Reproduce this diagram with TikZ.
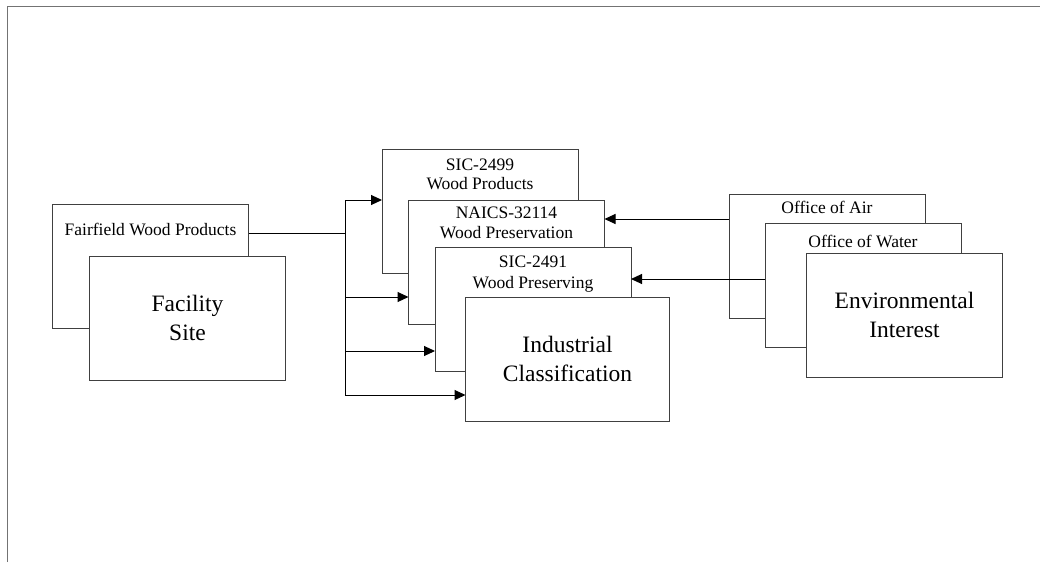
\documentclass[tikz,border=0pt]{standalone}
\usepackage{fontspec}
\setmainfont{Liberation Serif}
\usetikzlibrary{arrows.meta}
\begin{document}
\begin{tikzpicture}[x=1pt,y=-1pt,
  box/.style={draw=black!75,line width=1pt,fill=white,minimum width=196pt,minimum height=124pt,inner sep=0pt,outer sep=0pt},
  small/.style={font=\fontsize{17.5}{19.5}\selectfont,anchor=base,inner sep=0pt},
  big/.style={font=\fontsize{23.5}{29}\selectfont,align=center},
  arr/.style={line width=1pt,-{Triangle[length=11pt,width=10pt]}},
  wire/.style={line width=1pt}]
\useasboundingbox (0,0) rectangle (1040,562);
\draw[black!55,line width=1pt] (7,562) -- (7,6) -- (1040,6);
\node[box] (fairfield) at (150.5,266) {};
\node[small] (fairfieldtxt) at (150.5,235) {Fairfield Wood Products};
\node[box,big] (facility) at (187.5,318) {Facility\\Site};
\node[box] (sic2499) at (480,211.5) {};
\node[small] (sic2499a) at (480,170) {SIC-2499};
\node[small] (sic2499b) at (480,189) {Wood Products};
\node[box] (naics) at (506.5,262) {};
\node[small] (naicsa) at (506.5,218) {NAICS-32114};
\node[small] (naicsb) at (506.5,238) {Wood Preservation};
\node[box] (sic2491) at (533,309) {};
\node[small] (sic2491a) at (533,267) {SIC-2491};
\node[small] (sic2491b) at (533,288) {Wood Preserving};
\node[box,big,minimum width=204pt] (industrial) at (567.5,359) {Industrial\\Classification};
\node[box] (air) at (827,256) {};
\node[small] (airtxt) at (827,213) {Office of Air};
\node[box] (water) at (863,285) {};
\node[small] (watertxt) at (863,247) {Office of Water};
\node[box,big] (env) at (904.5,315) {Environmental\\Interest};
\coordinate (split) at (345,233);
\coordinate (bustop) at (345,200);
\coordinate (busbot) at (345,395);
\coordinate (airout) at (729,219);
\coordinate (waterout) at (765,279);
\draw[wire] (fairfield.east |- split) -- (split);
\draw[wire] (bustop) -- (busbot);
\draw[arr] (bustop) -- (sic2499.west |- bustop);
\draw[arr] (345,297) -- (naics.west |- 0,297);
\draw[arr] (345,351) -- (sic2491.west |- 0,351);
\draw[arr] (busbot) -- (industrial.west |- busbot);
\draw[arr] (airout) -- (naics.east |- airout);
\draw[arr] (waterout) -- (sic2491.east |- waterout);
\end{tikzpicture}
\end{document}
